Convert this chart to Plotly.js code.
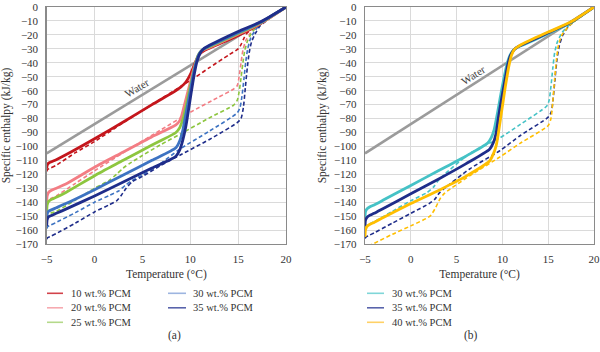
<!DOCTYPE html>
<html><head><meta charset="utf-8">
<script src="https://cdn.plot.ly/plotly-3.0.1.min.js"></script>
<style>html,body{margin:0;padding:0;background:#fff}#chart{width:600px;height:352px}</style>
</head><body><div id="chart"></div><script>
// ---------- data (temperature °C, specific enthalpy kJ/kg) ----------
const waterT = [-5, 20];
const waterH = [-105, 0];

// panel (a) solid curves
const a10T = [-5, -4.95, -4.8, -4.5, -4, -3, 0, 3, 6, 8.5, 9.0, 9.4, 9.8, 10.1, 10.4, 10.7, 11.0, 11.5, 12, 15, 17.3, 20];
const a10H = [-116, -113.5, -112, -111, -109.5, -106, -94.5, -82.5, -70, -60, -57.5, -55, -51, -47, -42, -37, -33.5, -31, -29.5, -20.5, -12, 0];
const a20T = [-5, -4.95, -4.8, -4.5, -4, -3, 0, 3, 6, 8.5, 8.9, 9.1, 9.4, 9.7, 10.0, 10.3, 10.6, 10.9, 11.3, 12, 15, 17.3, 20];
const a20H = [-140, -135.5, -133, -131.5, -130, -127, -115, -104, -93, -84.5, -81.5, -78, -70, -62, -54, -46, -39, -34, -31, -29, -19.5, -11.8, 0];
const a25T = [-5, -4.95, -4.8, -4.5, -4, -3, 0, 3, 6, 8.5, 8.9, 9.1, 9.3, 9.6, 9.9, 10.2, 10.5, 10.8, 11.2, 12, 15, 17.3, 20];
const a25H = [-147, -142, -139.5, -138, -136.5, -133, -121, -110, -99, -90, -86.5, -83, -79, -70, -60, -51, -42, -35, -31, -28.5, -19, -11.5, 0];
const a30T = [-5, -4.95, -4.8, -4.5, -4, -3, 0, 3, 6, 8.5, 8.9, 9.2, 9.45, 9.7, 10.0, 10.3, 10.6, 10.9, 11.3, 12, 15, 17.3, 20];
const a30H = [-153, -148.5, -146.5, -145.5, -144, -141, -131, -120.5, -110, -101, -96, -89, -80, -71, -60, -49, -40, -34, -30.5, -28, -18.5, -11.2, 0];
const a35T = [-5, -4.95, -4.8, -4.5, -4, -3, 0, 3, 6, 8.5, 8.9, 9.2, 9.5, 9.7, 9.95, 10.2, 10.45, 10.7, 11.0, 11.4, 12, 15, 17.3, 20];
const a35H = [-157, -152.5, -150.5, -149.5, -148, -145, -135.5, -125.5, -115.5, -107, -102.5, -96, -87, -79, -68, -57, -47, -39, -33.5, -30, -27.5, -17.5, -10.8, 0];

// panel (a) dashed curves
const a10dT = [-5, -4.9, -4.6, -4, -2, 0, 3, 6, 9, 10.5, 12, 14, 15, 15.3, 15.6, 15.9, 16.4, 17.3, 20];
const a10dH = [-118, -116.5, -115.5, -113.5, -104.5, -96.5, -83, -70, -57, -50.5, -43.5, -34.5, -30, -27, -22.5, -19, -16, -12.3, 0];
const a20dT = [-5, -4.9, -4.6, -4, -2, 0, 3, 6.84, 10, 13, 14.5, 14.9, 15.1, 15.3, 15.5, 15.8, 16.2, 16.8, 17.3, 20];
const a20dH = [-141.5, -139, -137.5, -135.5, -126.5, -117.5, -104.5, -88.5, -75.5, -64.5, -59, -56.5, -50, -40, -31, -24, -19.5, -15, -12.3, 0];
const a25dT = [-5, -4.9, -4.6, -4, -2, 0, 1.5, 2.3, 3.0, 3.6, 5, 6.84, 9, 12, 14.5, 14.9, 15.1, 15.3, 15.5, 15.7, 16.0, 16.5, 17.3, 20];
const a25dH = [-151.5, -149.5, -148, -146.5, -138.5, -130, -124.5, -120, -115.5, -112.5, -106.5, -99, -91, -79.5, -70.5, -67, -61, -51, -40, -31, -24, -17.5, -12.5, 0];
const a30dT = [-5, -4.9, -4.6, -4, -2, 0, 1.6, 2.5, 3.2, 3.8, 5, 6.84, 8.9, 12, 14.9, 15.2, 15.4, 15.6, 15.8, 16.0, 16.3, 16.8, 17.3, 20];
const a30dH = [-159, -157.5, -156.5, -154.5, -147.5, -140, -135, -132, -128, -125, -120.5, -112.5, -102, -89, -76, -72, -64, -52, -39, -30, -22.5, -16.5, -12.8, 0];
const a35dT = [-5, -4.9, -4.6, -4, -2, 0, 1.5, 2.3, 2.8, 3.3, 3.9, 5, 6.84, 9, 12, 14.9, 15.3, 15.55, 15.75, 15.95, 16.15, 16.4, 16.8, 17.3, 20];
const a35dH = [-166.5, -165.5, -164.5, -162.5, -155, -147, -142, -139, -135, -130, -125.5, -121.5, -114, -106, -95, -83, -80, -72, -58, -44, -33, -25, -19, -13.5, 0];

// panel (b) solid curves
const b30T = [-5, -4.95, -4.8, -4.5, -4, -3, 0, 3, 6, 8.4, 8.8, 9.1, 9.35, 9.6, 9.9, 10.2, 10.5, 10.8, 11.2, 11.6, 12.5, 15, 17.4, 20];
const b30H = [-151, -147, -145, -143.5, -142, -138.5, -128, -117.5, -107, -97.5, -93.5, -88, -80, -71, -60, -50, -41, -35, -31, -29, -26.5, -19, -11.5, 0];
const b35T = [-5, -4.95, -4.8, -4.5, -4, -3, 0, 3, 6, 8.6, 9.0, 9.3, 9.55, 9.8, 10.1, 10.35, 10.6, 10.9, 11.3, 11.7, 12.5, 15, 17.4, 20];
const b35H = [-157.5, -153, -151, -149.5, -148, -144.5, -134, -123.5, -112.5, -102, -97.5, -91, -80, -70, -59, -50, -41, -34.5, -30.5, -28.5, -26, -18.5, -11.2, 0];
const b40T = [-5, -4.95, -4.8, -4.5, -4, -3, 0, 3.2, 6, 8.6, 9.0, 9.3, 9.55, 9.8, 10.05, 10.3, 10.5, 10.75, 11.0, 11.35, 11.8, 12.5, 15, 17.4, 20];
const b40H = [-165, -160, -157.5, -156, -154.5, -151, -141, -131, -121.5, -110.5, -105.5, -100, -91, -80, -69, -58, -50, -41, -34.5, -30, -28, -25.5, -18, -11, 0];

// panel (b) dashed curves
const b30dT = [-5, -4.9, -4.6, -4, -2, 0, 1.8, 2.5, 3.0, 3.6, 6.46, 9.7, 12, 14.85, 15.1, 15.3, 15.5, 15.7, 16.0, 16.5, 17.2, 20];
const b30dH = [-158.5, -157, -156, -154, -146.5, -139, -133, -129, -124.5, -120.5, -105, -94, -84, -71, -67, -57, -44, -33, -25, -18.5, -13.5, 0];
const b35dT = [-5, -4.9, -4.6, -4, -2, 0, 2.0, 2.6, 3.1, 3.6, 6.46, 9.74, 12, 15.0, 15.35, 15.55, 15.75, 15.95, 16.2, 16.6, 17.3, 20];
const b35dH = [-166, -165, -164, -162, -155, -148, -141, -138, -133.5, -130.5, -116, -103, -92, -79, -75, -65, -51, -38, -28, -20, -13.5, 0];
const b40dT = [-4.6, -4, -2, 0, 2.1, 2.7, 3.2, 3.7, 6.46, 9.74, 12, 15.0, 15.3, 15.5, 15.7, 15.9, 16.1, 16.5, 17.3, 20];
const b40dH = [-171.5, -169.5, -163, -157, -150, -144, -137.5, -133.5, -121, -107.5, -97.5, -85, -80, -68, -52, -38, -28, -20, -13.5, 0];

const legendA1 = ['10 wt.% PCM', '20 wt.% PCM', '25 wt.% PCM'];
const legendA2 = ['30 wt.% PCM', '35 wt.% PCM'];
const legendB = ['30 wt.% PCM', '35 wt.% PCM', '40 wt.% PCM'];

// ---------- styling ----------
const C = {red:'#c4161c', pink:'#f37d84', green:'#8dc63f', blue:'#3d73c2', navy:'#1f2d8a', teal:'#45c2c6', gold:'#ffbe00', water:'#9b9b9b'};
const LC = {red:'#d2424a', pink:'#f6aab0', green:'#b4d98a', blue:'#9db5e0', navy:'#5964ab', teal:'#7fd6d8', gold:'#ffd166'};
const FONT = 'Liberation Serif, Times New Roman, serif';
const SW = 2.8, DW = 1.6, DASH = '4px,2.6px';

function solid(x, y, c, ax) { return {x, y, type:'scatter', mode:'lines', line:{color:c, width:SW, shape:'spline', smoothing:0.6}, xaxis:ax[0], yaxis:ax[1], showlegend:false, hoverinfo:'skip'}; }
function dashed(x, y, c, ax) { return {x, y, type:'scatter', mode:'lines', line:{color:c, width:DW, dash:DASH, shape:'spline', smoothing:0.6}, xaxis:ax[0], yaxis:ax[1], showlegend:false, hoverinfo:'skip'}; }
function water(ax) { return {x:waterT, y:waterH, type:'scatter', mode:'lines', line:{color:C.water, width:2.6}, xaxis:ax[0], yaxis:ax[1], showlegend:false, hoverinfo:'skip'}; }

const A = ['x','y'], B = ['x2','y2'];
const data = [
  water(A),
  dashed(a10dT, a10dH, C.red, A), dashed(a20dT, a20dH, C.pink, A), dashed(a25dT, a25dH, C.green, A),
  dashed(a30dT, a30dH, C.blue, A), dashed(a35dT, a35dH, C.navy, A),
  solid(a10T, a10H, C.red, A), solid(a20T, a20H, C.pink, A), solid(a25T, a25H, C.green, A),
  solid(a30T, a30H, C.blue, A), solid(a35T, a35H, C.navy, A),
  water(B),
  dashed(b30dT, b30dH, C.teal, B), dashed(b35dT, b35dH, C.navy, B), dashed(b40dT, b40dH, C.gold, B),
  solid(b30T, b30H, C.teal, B), solid(b35T, b35H, C.navy, B), solid(b40T, b40H, C.gold, B)
];

const W = 600, H = 352;
const px = v => v / W, py = v => 1 - v / H;

function xax(d0, d1, anchor) {
  return {domain:[px(d0), px(d1)], anchor, range:[-5, 20], dtick:5, tick0:0, showgrid:true, gridcolor:'#dadada', gridwidth:1,
    showline:true, mirror:true, linecolor:'#8a8a8a', linewidth:1.4, zeroline:false, ticks:'', ticklabelstandoff:4,
    tickfont:{family:FONT, size:11, color:'#333'},
    title:{text:'Temperature (°C)', font:{family:FONT, size:11.5, color:'#333'}, standoff:6}};
}
function yax(anchor) {
  return {domain:[py(244), py(7)], anchor, range:[-170, 0], dtick:10, showgrid:true, gridcolor:'#dadada', gridwidth:1,
    showline:true, mirror:true, linecolor:'#8a8a8a', linewidth:1.4, zeroline:false, ticks:'', ticklabelstandoff:5,
    tickfont:{family:FONT, size:11, color:'#333'},
    title:{text:'Specific enthalpy (kJ/kg)', font:{family:FONT, size:11.5, color:'#333'}, standoff:4}};
}

const annotations = [
  {xref:'x', yref:'y', x:4.4, y:-58.3, text:'Water', showarrow:false, textangle:-31.5, font:{family:FONT, size:11, color:'#444'}},
  {xref:'x2', yref:'y2', x:6.8, y:-48.8, text:'Water', showarrow:false, textangle:-32.6, font:{family:FONT, size:11, color:'#444'}},
  {xref:'paper', yref:'paper', x:px(166), y:py(344), text:'(a)', showarrow:false, font:{family:FONT, size:11.5, color:'#333'}},
  {xref:'paper', yref:'paper', x:px(480), y:py(344), text:'(b)', showarrow:false, font:{family:FONT, size:11.5, color:'#333'}}
];
const shapes = [];
function legendItem(label, color, sx0, sx1, tx, rowY) {
  shapes.push({type:'line', xref:'paper', yref:'paper', x0:px(sx0), x1:px(sx1), y0:py(rowY), y1:py(rowY), line:{color, width:1.6}});
  annotations.push({xref:'paper', yref:'paper', x:px(tx), y:py(rowY), xanchor:'left', yanchor:'middle', text:label, showarrow:false, font:{family:FONT, size:10.5, color:'#333'}});
}
const rows = [293.3, 307.8, 322.3];
const colA1 = [LC.red, LC.pink, LC.green], colA2 = [LC.blue, LC.navy], colB = [LC.teal, LC.navy, LC.gold];
legendA1.forEach((t, i) => legendItem(t, colA1[i], 47, 63, 69, rows[i]));
legendA2.forEach((t, i) => legendItem(t, colA2[i], 168, 186, 191, rows[i]));
legendB.forEach((t, i) => legendItem(t, colB[i], 367, 384, 390, rows[i]));

const layout = {
  width:W, height:H, margin:{l:0, r:0, t:0, b:0}, paper_bgcolor:'#fff', plot_bgcolor:'#fff', showlegend:false,
  xaxis: xax(46.7, 286, 'y'), yaxis: yax('x'),
  xaxis2: xax(365, 594, 'y2'), yaxis2: yax('x2'),
  annotations, shapes
};
Plotly.newPlot('chart', data, layout, {staticPlot:true});
</script></body></html>
